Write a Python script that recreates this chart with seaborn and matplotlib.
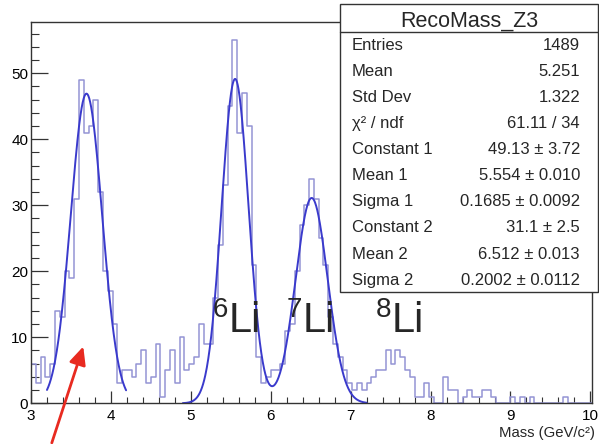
import numpy as np
import pandas as pd
import matplotlib
matplotlib.use("Agg")
import matplotlib.pyplot as plt
import seaborn as sns
from matplotlib.patches import Rectangle
from matplotlib.lines import Line2D
from matplotlib.ticker import MultipleLocator

# ---- reconstructed mass histogram (Z = 3), 0.06 GeV/c^2 bins from 3.0 ----
bin_start = 3.0
bin_width = 0.06
counts = [6, 3, 7, 4, 6, 14, 13, 20, 19, 31,
          49, 41, 42, 46, 32, 20, 17, 12, 3, 5,
          5, 4, 6, 8, 3, 4, 9, 1, 5, 8,
          3, 10, 5, 6, 7, 12, 9, 9, 16, 24,
          33, 45, 55, 41, 47, 42, 21, 7, 3, 4,
          5, 5, 6, 11, 12, 20, 27, 30, 34, 31,
          25, 21, 13, 9, 7, 5, 3, 2, 3, 2,
          3, 4, 5, 5, 8, 6, 8, 7, 5, 4,
          1, 1, 3, 1, 0, 0, 4, 2, 2, 0,
          1, 2, 1, 1, 2, 2, 1, 0, 0, 0,
          1, 0, 1, 0, 1, 0, 0, 0, 0, 0,
          0, 1, 0, 0, 0, 0, 0]

# ---- single gaussian fit of the low-mass peak ----
peak0_const = 46.9
peak0_mean = 3.694
peak0_sigma = 0.197
peak0_range = (3.2, 4.19)

# ---- double gaussian fit (6Li + 7Li) ----
fit_const = [49.13, 31.1]
fit_const_err = [3.72, 2.5]
fit_mean = [5.554, 6.512]
fit_mean_err = [0.010, 0.013]
fit_sigma = [0.1685, 0.2002]
fit_sigma_err = [0.0092, 0.0112]
fit_range = (4.9, 7.2)
chi2, ndf = 61.11, 34

hist_name = "RecoMass_Z3"
entries = 1489
mean_all = 5.251
std_all = 1.322

isotope_mass_numbers = ["6", "7", "8"]
isotope_x = [5.275, 6.2, 7.3125]

HIST_COLOR = "#9494d4"
FIT_COLOR = "#3a3acc"
ARROW_COLOR = "#e82a20"

sns.set_style("white")
plt.rcParams["font.family"] = ["Liberation Sans", "DejaVu Sans"]

W, H = 599, 444
fig = plt.figure(figsize=(W / 100, H / 100), dpi=100)
ax = fig.add_axes([31 / W, 1 - 403.3 / H, (592 - 31) / W, (403.3 - 22) / H])

edges = [bin_start + bin_width * i for i in range(len(counts) + 1)]
centers = [e + bin_width / 2 for e in edges[:-1]]
df = pd.DataFrame({"mass": centers, "entries": counts})
sns.histplot(data=df, x="mass", weights="entries", bins=edges,
             element="step", fill=False, color=HIST_COLOR,
             linewidth=1.1, ax=ax)


def gauss(x, c, m, s):
    return c * np.exp(-0.5 * ((x - m) / s) ** 2)


x0 = np.linspace(*peak0_range, 300)
sns.lineplot(x=x0, y=gauss(x0, peak0_const, peak0_mean, peak0_sigma),
             color=FIT_COLOR, linewidth=1.4, ax=ax)

x1 = np.linspace(*fit_range, 500)
y1 = sum(gauss(x1, c, m, s) for c, m, s in zip(fit_const, fit_mean, fit_sigma))
sns.lineplot(x=x1, y=y1, color=FIT_COLOR, linewidth=1.4, ax=ax)

ax.set_xlim(3.0, 10.02)
ax.set_ylim(0, 1.05 * max(counts))
ax.set_xlabel("")
ax.set_ylabel("")

ax.xaxis.set_major_locator(MultipleLocator(1))
ax.xaxis.set_minor_locator(MultipleLocator(0.2))
ax.yaxis.set_major_locator(MultipleLocator(10))
ax.yaxis.set_minor_locator(MultipleLocator(2))
ax.tick_params(axis="both", which="both", direction="in", top=False,
               right=False, bottom=True, left=True, colors="#333333",
               labelcolor="black", labelsize=11)
ax.tick_params(axis="x", which="major", length=8.3, width=0.9, pad=4)
ax.tick_params(axis="x", which="minor", length=4.3, width=0.8)
ax.tick_params(axis="y", which="major", length=12, width=0.9, pad=2)
ax.tick_params(axis="y", which="minor", length=6, width=0.8)
for sp in ax.spines.values():
    sp.set_color("#333333")
    sp.set_linewidth(1.0)

fig.text(595 / W, 1 - 437 / H, "Mass (GeV/c²)", ha="right",
         va="baseline", fontsize=10.7)

# isotope labels
for num, xl in zip(isotope_mass_numbers, isotope_x):
    ax.text(xl, 13.1, num, fontsize=20, ha="left", va="baseline")
    ax.text(xl + 0.2, 10.85, "Li", fontsize=30, ha="left", va="baseline")

# arrow pointing at the low-mass peak
ax.annotate("", xy=(3.654, 8.6), xytext=(3.26, -6.0),
            arrowprops=dict(arrowstyle="-|>,head_length=0.6,head_width=0.28",
                            color=ARROW_COLOR, lw=2.0, mutation_scale=18,
                            shrinkA=0, shrinkB=0),
            annotation_clip=False)

# ---- statistics box ----
bx0, bx1, by0, by1 = 340, 598, 4, 292
fig.add_artist(Rectangle((bx0 / W, 1 - by1 / H), (bx1 - bx0) / W,
                         (by1 - by0) / H, transform=fig.transFigure,
                         facecolor="white", edgecolor="#333333",
                         linewidth=1.0, zorder=5))
fig.add_artist(Line2D([bx0 / W, bx1 / W], [1 - 32 / H] * 2,
                      transform=fig.transFigure, color="#333333",
                      linewidth=1.0, zorder=6))
fig.text((bx0 + bx1) / 2 / W, 1 - 26.8 / H, hist_name, ha="center",
         va="baseline", fontsize=15.5, zorder=7)

stat_rows = [
    ("Entries", f"{entries}"),
    ("Mean", f"{mean_all:.3f}"),
    ("Std Dev", f"{std_all:.3f}"),
    ("χ² / ndf", f"{chi2:.2f} / {ndf}"),
    ("Constant 1", f"{fit_const[0]:.2f} ± {fit_const_err[0]:.2f}"),
    ("Mean 1", f"{fit_mean[0]:.3f} ± {fit_mean_err[0]:.3f}"),
    ("Sigma 1", f"{fit_sigma[0]:.4f} ± {fit_sigma_err[0]:.4f}"),
    ("Constant 2", f"{fit_const[1]:.1f} ± {fit_const_err[1]:.1f}"),
    ("Mean 2", f"{fit_mean[1]:.3f} ± {fit_mean_err[1]:.3f}"),
    ("Sigma 2", f"{fit_sigma[1]:.4f} ± {fit_sigma_err[1]:.4f}"),
]
row_y = 44.3
for label, value in stat_rows:
    yb = 1 - (row_y + 5.5) / H
    fig.text(352 / W, yb, label, ha="left", va="baseline", fontsize=12,
             zorder=7)
    fig.text(580 / W, yb, value, ha="right", va="baseline", fontsize=12,
             zorder=7)
    row_y += 26.1

fig.savefig("out.png", dpi=100)
